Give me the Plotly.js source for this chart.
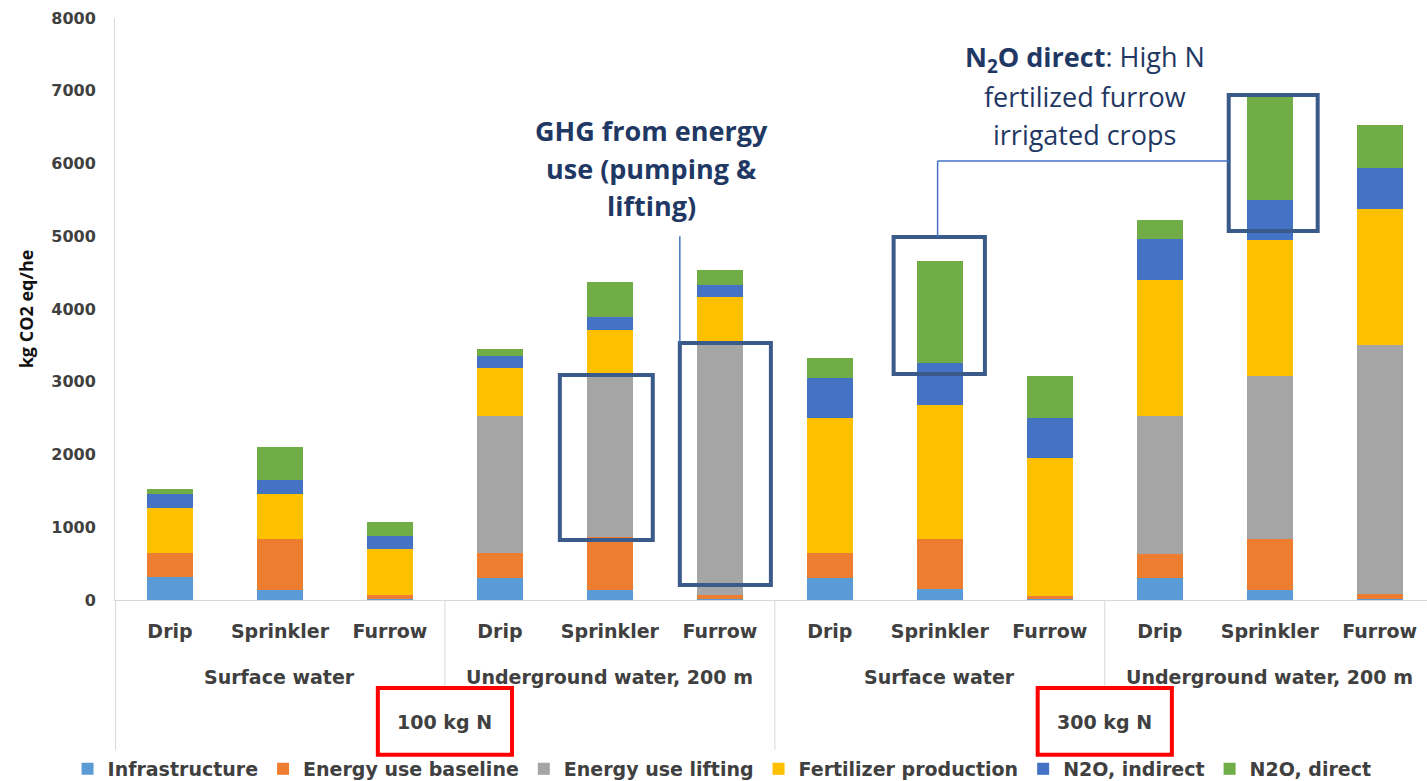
<!DOCTYPE html>
<html>
<head>
<meta charset="utf-8">
<script src="https://cdn.plot.ly/plotly-3.0.1.min.js"></script>
<style>html,body{margin:0;padding:0;background:#fff;}#chart{width:1427px;height:781px;}</style>
</head>
<body>
<div id="chart"></div>
<script>
// ---- data ----
const categories = ['Drip','Sprinkler','Furrow','Drip','Sprinkler','Furrow','Drip','Sprinkler','Furrow','Drip','Sprinkler','Furrow'];
const waterSources = ['Surface water','Underground water, 200 m','Surface water','Underground water, 200 m'];
const nitrogenLevels = ['100 kg N','300 kg N'];
const seriesNames = ['Infrastructure','Energy use baseline','Energy use lifting','Fertilizer production','N2O, indirect','N2O, direct'];
const infrastructure = [310,136,20,300,137,20,300,147,15,300,133,20];
const energyBaseline = [330,706,50,350,733,50,340,687,40,330,711,60];
const energyLifting  = [0,0,0,1885,2250,3480,0,0,0,1895,2237,3430];
const fertilizer     = [625,614,636,650,590,620,1855,1846,1892,1870,1863,1860];
const n2oIndirect    = [190,190,180,170,185,160,550,573,550,570,554,570];
const n2oDirect      = [65,462,190,95,470,200,275,1411,582,260,1413,590];
const yTitle = 'kg CO2 eq/he';
const noteEnergyLines = ['<b>GHG from energy</b>','<b>use (pumping &amp;</b>','<b>lifting)</b>'];
const noteN2OLines = ['<b>N<sub>2</sub>O direct</b>: High N','fertilized furrow','irrigated crops'];

const colors = ['#5B9BD5','#ED7D31','#A5A5A5','#FFC000','#4472C4','#70AD47'];
const seriesValues = [infrastructure, energyBaseline, energyLifting, fertilizer, n2oIndirect, n2oDirect];
const xPos = categories.map((_, i) => i);

const traces = seriesValues.map((vals, k) => ({
  type: 'bar', name: seriesNames[k], x: xPos, y: vals, width: 0.42,
  marker: {color: colors[k], line: {width: 0}}, hoverinfo: 'name+y'
}));

const gray = '#404040';
const navy = '#1F3864';
const boxBlue = '#3A5A8A';
const lineBlue = '#4472C4';
const labelFont = 'DejaVu Sans, sans-serif';
const noteFont = 'Open Sans, sans-serif';

const shapes = [];
// category dividers
[2.5, 8.5].forEach(x => shapes.push({type:'line', xref:'x', yref:'paper', x0:x, x1:x, y0:0, y1:-0.155, line:{color:'#d9d9d9', width:1}}));
[-0.495, 5.5].forEach(x => shapes.push({type:'line', xref:'x', yref:'paper', x0:x, x1:x, y0:0, y1:-0.258, line:{color:'#d9d9d9', width:1}}));
// red boxes around N level labels
[2.5, 8.5].forEach(x => shapes.push({type:'rect', xref:'x', yref:'paper', x0:x-0.61, x1:x+0.61, y0:-0.151, y1:-0.266, line:{color:'#FF0000', width:4}}));
// highlight boxes
shapes.push({type:'rect', xref:'x', yref:'y', x0:3.545, x1:4.39, y0:825, y1:3093, line:{color:boxBlue, width:4}});
shapes.push({type:'rect', xref:'x', yref:'y', x0:4.636, x1:5.464, y0:206, y1:3533, line:{color:boxBlue, width:4}});
shapes.push({type:'rect', xref:'x', yref:'y', x0:6.58, x1:7.41, y0:3107, y1:4990, line:{color:boxBlue, width:4}});
shapes.push({type:'rect', xref:'x', yref:'y', x0:9.627, x1:10.436, y0:5072, y1:6942, line:{color:boxBlue, width:4}});
// callout connectors
shapes.push({type:'line', xref:'x', yref:'y', x0:4.636, x1:4.636, y0:5000, y1:3533, line:{color:lineBlue, width:1.5}});
shapes.push({type:'line', xref:'x', yref:'y', x0:6.98, x1:9.627, y0:6034, y1:6034, line:{color:lineBlue, width:1.5}});
shapes.push({type:'line', xref:'x', yref:'y', x0:6.98, x1:6.98, y0:6034, y1:4990, line:{color:lineBlue, width:1.5}});

const annotations = [];
waterSources.forEach((s, i) => annotations.push({
  text: '<b>' + s + '</b>', xref:'x', yref:'paper', x: 1 + 3*i, y: -0.132, showarrow:false, yanchor:'middle',
  font:{family: labelFont, size:19, color: gray}
}));
nitrogenLevels.forEach((s, i) => annotations.push({
  text: '<b>' + s + '</b>', xref:'x', yref:'paper', x: 2.5 + 6*i, y: -0.2096, showarrow:false, yanchor:'middle',
  font:{family: labelFont, size:19, color: gray}
}));
// callout notes, one annotation per line (38 px line spacing = 522 y-units)
noteEnergyLines.forEach((t, i) => annotations.push({text: t, xref:'x', yref:'y', x:4.38, y:6460 - i*522,
  showarrow:false, yanchor:'middle', font:{family: noteFont, size:27, color: navy}}));
noteN2OLines.forEach((t, i) => annotations.push({text: t, xref:'x', yref:'y', x:8.318, y:7440 - i*522,
  showarrow:false, yanchor:'middle', font:{family: noteFont, size:27, color: navy}}));

const layout = {
  width: 1427, height: 781,
  margin: {l:115, r:0, t:18, b:181, pad:0},
  paper_bgcolor:'#fff', plot_bgcolor:'#fff',
  barmode: 'stack',
  showlegend: true,
  legend: {orientation:'h', traceorder:'normal', xref:'container', yref:'container', x:0.506, xanchor:'center', y:0.0154, yanchor:'middle',
    bgcolor:'rgba(0,0,0,0)', font:{family: labelFont, size:19, color: gray, weight: 700}, itemwidth: 30},
  xaxis: {range:[-0.5, 11.43], tickvals: xPos, ticktext: categories.map(c => '<b>' + c + '</b>'), showgrid:false, zeroline:false,
    showline:true, linecolor:'#d9d9d9', linewidth:1, ticks:'', ticklabelstandoff: 14,
    tickfont:{family: labelFont, size:19, color: gray}, fixedrange:true},
  yaxis: {range:[0, 8000], dtick:1000, showgrid:false, zeroline:false, showline:true, linecolor:'#d9d9d9', linewidth:1,
    ticks:'', ticklabelstandoff: 15, tickfont:{family: labelFont, size:16, color: gray, weight: 700},
    title:{text: '<b>' + yTitle + '</b>', font:{family: noteFont, size:18, color:'#111'}, standoff: 12}, fixedrange:true},
  shapes: shapes,
  annotations: annotations
};

Plotly.newPlot('chart', traces, layout, {displayModeBar:false, staticPlot:true});
</script>
</body>
</html>
